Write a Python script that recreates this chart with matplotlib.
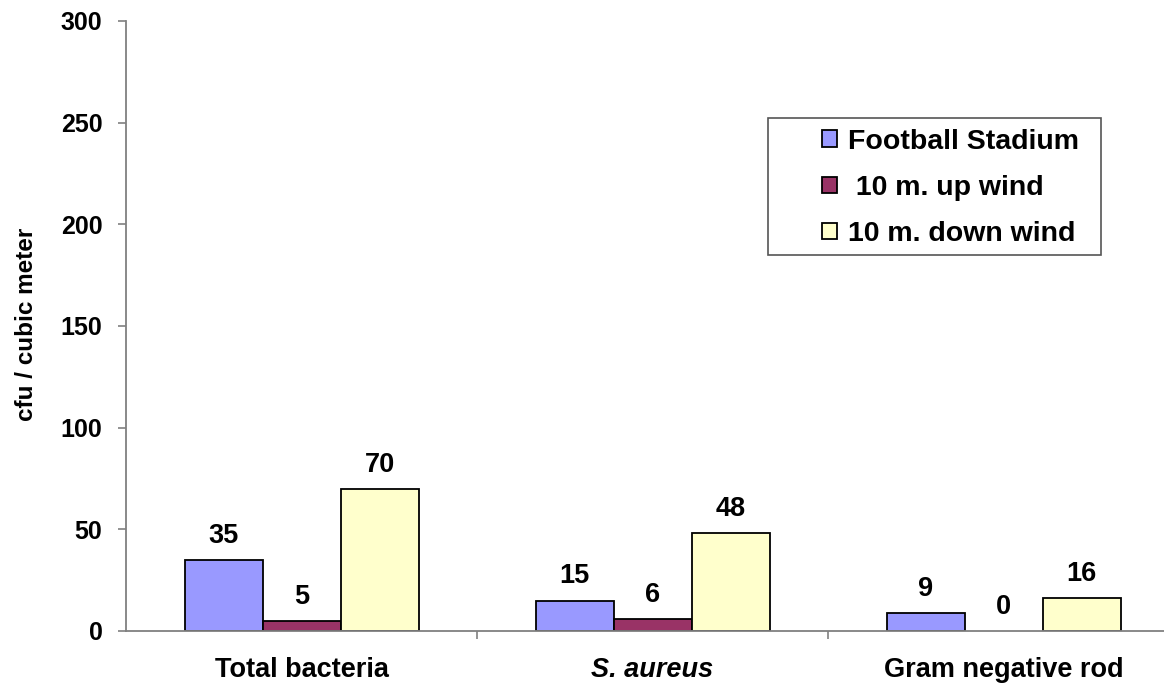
import matplotlib
matplotlib.use("Agg")
import matplotlib.pyplot as plt
import numpy as np
from matplotlib.patches import Rectangle

# Airborne bacteria counts (cfu / cubic meter)
categories = ["Total bacteria", "S. aureus", "Gram negative rod"]
series_names = ["Football Stadium", " 10 m. up wind", "10 m. down wind"]
stadium = [35, 15, 9]
up_wind = [5, 6, 0]
down_wind = [70, 48, 16]
series_colors = ["#9999FF", "#993366", "#FFFFCC"]
y_ticks = [0, 50, 100, 150, 200, 250, 300]

plt.rcParams["font.family"] = ["Liberation Sans", "DejaVu Sans"]
plt.rcParams["font.weight"] = "bold"

W, H = 1164, 685
fig = plt.figure(figsize=(W / 100, H / 100), dpi=100)
ax = fig.add_axes([126 / W, 54 / H, 1053 / W, 610 / H])

x = np.arange(len(categories))
bar_w = 78 / 351
axis_gray = "#808080"

for i, (vals, name, col) in enumerate(zip([stadium, up_wind, down_wind], series_names, series_colors)):
    pos = x + (i - 1) * bar_w
    lws = [1.3 if v > 0 else 0 for v in vals]
    ax.bar(pos, vals, width=bar_w, color=col, edgecolor="black",
           linewidth=lws, label=name, zorder=3)
    for p, v in zip(pos, vals):
        ax.annotate(f"{v}", xy=(p, v), xytext=(0, 8), textcoords="offset points",
                    ha="center", va="bottom", fontsize=19.5, fontweight="bold", zorder=4)

ax.set_ylim(0, 300)
ax.set_xlim(-0.5, 2.5)
ax.set_yticks(y_ticks)
ax.set_yticklabels([str(t) for t in y_ticks], fontsize=18, fontweight="bold")
ax.tick_params(axis="y", direction="out", length=6, width=1.2, color=axis_gray, pad=11)

ax.set_xticks(x)
ax.set_xticklabels(categories, fontsize=19.5, fontweight="bold")
ax.get_xticklabels()[1].set_style("italic")
ax.tick_params(axis="x", which="major", length=0, pad=19)
ax.set_xticks([0.5, 1.5], minor=True)
ax.tick_params(axis="x", which="minor", direction="out", length=6, width=1.2, color=axis_gray)

for s in ["top", "right"]:
    ax.spines[s].set_visible(False)
for s in ["left", "bottom"]:
    ax.spines[s].set_color(axis_gray)
    ax.spines[s].set_linewidth(1.3)
ax.spines["bottom"].set_zorder(5)

fig.text(27 / W, 1 - 324 / H, "cfu / cubic meter", rotation=90, ha="center", va="center",
         fontsize=17.5, fontweight="bold")

# Legend with its own rectangular frame
leg = ax.legend(loc="center left", bbox_to_anchor=(822 / W, 1 - 188 / H),
                bbox_transform=fig.transFigure, frameon=False,
                prop={"weight": "bold", "size": 20.5}, handlelength=0.52, handleheight=0.52,
                handletextpad=0.38, labelspacing=0.71, borderpad=0, borderaxespad=0)
for h in leg.legend_handles:
    h.set_linewidth(1.3)
frame = Rectangle((768 / W, 1 - 255 / H), (1101 - 768) / W, (255 - 118) / H,
                  transform=fig.transFigure, fill=False, edgecolor="#555555", linewidth=1.2)
fig.add_artist(frame)

fig.savefig("out.png", dpi=100)
